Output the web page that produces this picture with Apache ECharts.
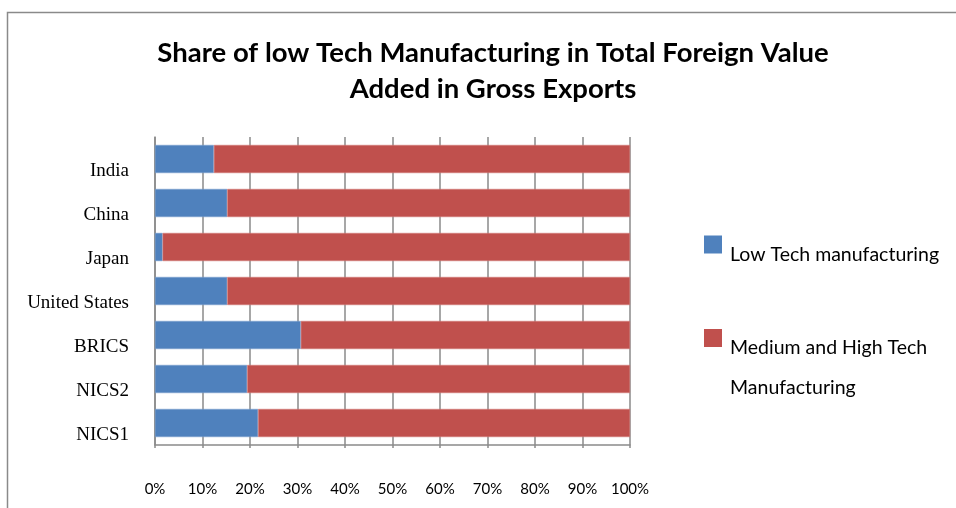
<!DOCTYPE html>
<html>
<head>
<meta charset="utf-8">
<script src="https://cdn.jsdelivr.net/npm/echarts@6/dist/echarts.min.js"></script>
<style>
html,body{margin:0;padding:0;background:#fff;}
#c{width:956px;height:508px;}
</style>
</head>
<body>
<div id="c"></div>
<script>
const categories = ['India', 'China', 'Japan', 'United States', 'BRICS', 'NICS2', 'NICS1'];
const lowTech = [12.4, 15.2, 1.6, 15.2, 30.7, 19.4, 21.7];
const medHighTech = [87.6, 84.8, 98.4, 84.8, 69.3, 80.6, 78.3];
const xTicks = [0, 10, 20, 30, 40, 50, 60, 70, 80, 90, 100];
const seriesNames = ['Low Tech manufacturing', 'Medium and High Tech Manufacturing'];

const chart = echarts.init(document.getElementById('c'));
chart.setOption({
  animation: false,
  backgroundColor: '#fff',
  graphic: [{
    type: 'rect', silent: true, z: -1,
    shape: { x: 7.5, y: 12.5, width: 1200, height: 800 },
    style: { fill: 'none', stroke: '#8a8a8a', lineWidth: 1.5 }
  }],
  title: {
    text: 'Share of low Tech Manufacturing in Total Foreign Value\nAdded in Gross Exports',
    left: 488, top: 30, textAlign: 'center',
    textStyle: { fontFamily: 'Lato', fontWeight: 'bold', fontSize: 27.5, lineHeight: 36, color: '#000' }
  },
  legend: [{
    data: [seriesNames[0]],
    orient: 'vertical', left: 704, top: 229.5, padding: 0,
    itemWidth: 18, itemHeight: 18, icon: 'rect',
    itemStyle: { borderWidth: 0 },
    formatter: () => '{e| }\n{t|Low Tech manufacturing}',
    textStyle: {
      fontFamily: 'Lato', fontSize: 19.5, color: '#000',
      rich: { e: { lineHeight: 20, fontSize: 10 }, t: { lineHeight: 20, fontFamily: 'Lato', fontSize: 19.5, color: '#000', padding: [0, 0, 0, 3] } }
    },
    selectedMode: false
  }, {
    data: [seriesNames[1]],
    orient: 'vertical', left: 704, top: 293, padding: 0,
    itemWidth: 18, itemHeight: 18, icon: 'rect',
    itemStyle: { borderWidth: 0 },
    formatter: () => '{e| }\n{t|Medium and High Tech}\n{t|Manufacturing}',
    textStyle: {
      fontFamily: 'Lato', fontSize: 19.5, color: '#000',
      rich: { e: { lineHeight: 60, fontSize: 10 }, t: { lineHeight: 40, fontFamily: 'Lato', fontSize: 19.5, color: '#000', padding: [0, 0, 0, 3] } }
    },
    selectedMode: false
  }],
  grid: { left: 155, right: 326, top: 137, bottom: 63, containLabel: false },
  xAxis: {
    type: 'value', min: 0, max: 100, interval: 10,
    axisLine: { show: true, lineStyle: { color: '#8a8a8a', width: 1.5 } },
    axisTick: { show: true, length: 3, lineStyle: { color: '#8a8a8a', width: 1.5 } },
    splitLine: { show: true, lineStyle: { color: '#8a8a8a', width: 1.5 } },
    axisLabel: {
      margin: 37, fontFamily: 'Lato', fontSize: 15, color: '#000',
      formatter: v => xTicks.includes(v) ? v + '%' : ''
    }
  },
  yAxis: {
    type: 'category', data: categories, inverse: true,
    axisLine: { show: true, lineStyle: { color: '#8a8a8a', width: 1.5 } },
    axisTick: { show: false },
    axisLabel: { margin: 26, fontFamily: 'Liberation Serif', fontSize: 19, lineHeight: 24, color: '#000', verticalAlign: 'top' }
  },
  series: [{
    name: seriesNames[0], type: 'bar', stack: 'a', data: lowTech,
    barCategoryGap: '36%',
    itemStyle: { color: '#4F81BD', borderColor: '#7fa3d1', borderWidth: 0.5 }
  }, {
    name: seriesNames[1], type: 'bar', stack: 'a', data: medHighTech,
    barCategoryGap: '36%',
    itemStyle: { color: '#C0504D', borderColor: '#d27f7d', borderWidth: 0.5 }
  }]
});
</script>
</body>
</html>
